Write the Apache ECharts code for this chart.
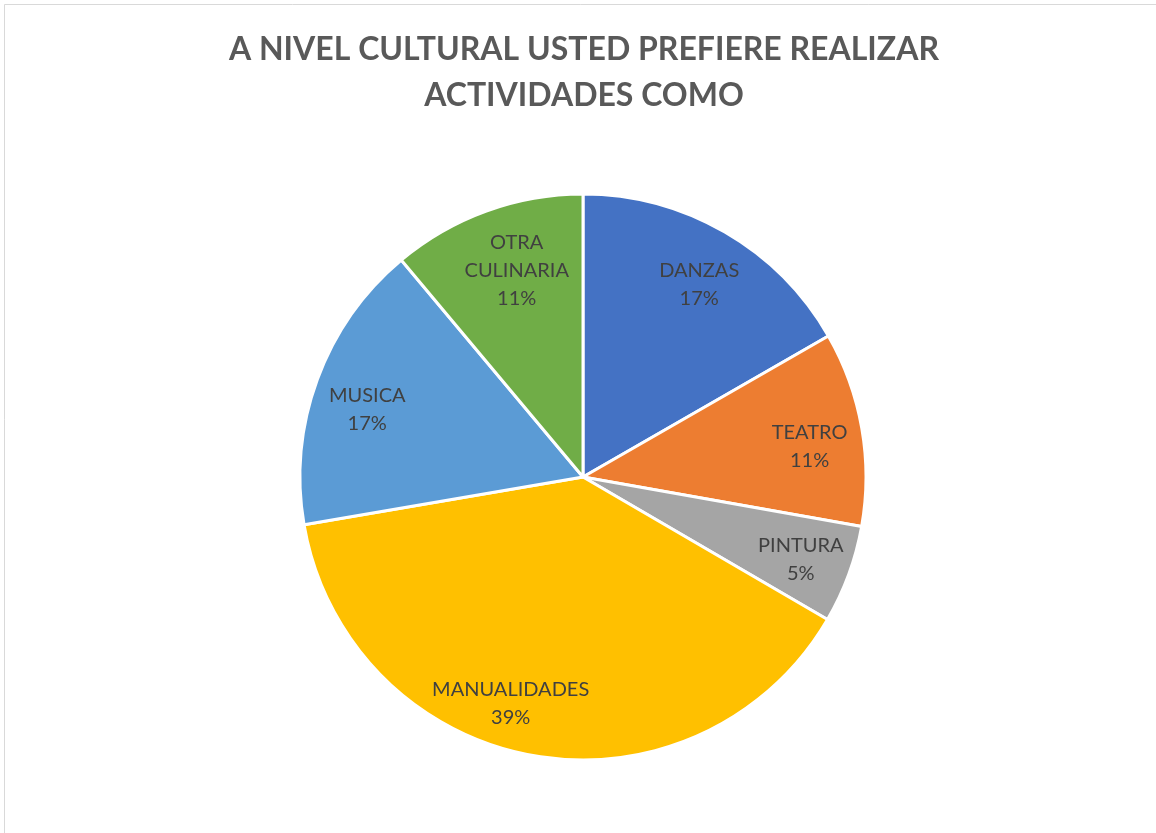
<!DOCTYPE html>
<html>
<head>
<meta charset="utf-8">
<script src="https://cdn.jsdelivr.net/npm/echarts@6/dist/echarts.min.js"></script>
<style>
html,body{margin:0;padding:0;background:#fff;}
#chart{width:1156px;height:833px;}
</style>
</head>
<body>
<div id="chart"></div>
<script>
const titleText = 'A NIVEL CULTURAL USTED PREFIERE REALIZAR\nACTIVIDADES COMO';
const categories = ['DANZAS', 'TEATRO', 'PINTURA', 'MANUALIDADES', 'MUSICA', 'OTRA\nCULINARIA'];
const shares = [16.7, 11.1, 5.6, 38.9, 16.6, 11.1];
const shownPercents = ['17%', '11%', '5%', '39%', '17%', '11%'];
const colors = ['#4472C4', '#ED7D31', '#A5A5A5', '#FFC000', '#5B9BD5', '#70AD47'];

const pieData = categories.map((c, i) => ({ name: c, value: shares[i], itemStyle: { color: colors[i] } }));
const labelData = categories.map((c, i) => ({ name: c, value: shares[i] }));

// small label nudges (Excel best-fit placement)
const nudges = { 0: [0, 8], 1: [-2, 9], 2: [0, 3], 3: [-31, -2], 4: [2, 13], 5: [13, 12] };

const chart = echarts.init(document.getElementById('chart'), null, { renderer: 'canvas' });
chart.setOption({
  backgroundColor: '#ffffff',
  animation: false,
  graphic: [{
    type: 'rect',
    shape: { x: 4.5, y: 4.5, width: 1200, height: 900 },
    style: { fill: 'none', stroke: '#d9d9d9', lineWidth: 1 },
    silent: true
  }, {
    type: 'text',
    x: 584,
    y: 27,
    silent: true,
    style: {
      text: titleText,
      textAlign: 'center',
      textVerticalAlign: 'top',
      fontFamily: 'Lato, "Open Sans", sans-serif',
      fontWeight: 'bold',
      fontSize: 32,
      lineHeight: 46,
      fill: '#595959'
    }
  }],
  series: [{
    type: 'pie',
    center: [583, 477],
    radius: [0, 283],
    startAngle: 90,
    clockwise: true,
    data: pieData,
    itemStyle: { borderColor: '#ffffff', borderWidth: 3 },
    label: { show: false },
    labelLine: { show: false },
    silent: true
  }, {
    type: 'pie',
    center: [583, 477],
    radius: [0, 458],
    startAngle: 90,
    clockwise: true,
    data: labelData,
    itemStyle: { color: 'rgba(0,0,0,0)', borderWidth: 0 },
    label: {
      show: true,
      position: 'inside',
      formatter: (p) => p.name + '\n' + shownPercents[p.dataIndex],
      fontFamily: 'Lato, "Open Sans", sans-serif',
      fontSize: 20,
      lineHeight: 28,
      color: '#404040',
      align: 'center'
    },
    labelLayout: (params) => {
      const n = nudges[params.dataIndex] || [0, 0];
      return { x: params.labelRect.x + params.labelRect.width / 2 + n[0], y: params.labelRect.y + params.labelRect.height / 2 + n[1], align: 'center', verticalAlign: 'middle' };
    },
    labelLine: { show: false },
    silent: true,
    z: 5
  }]
});
</script>
</body>
</html>
